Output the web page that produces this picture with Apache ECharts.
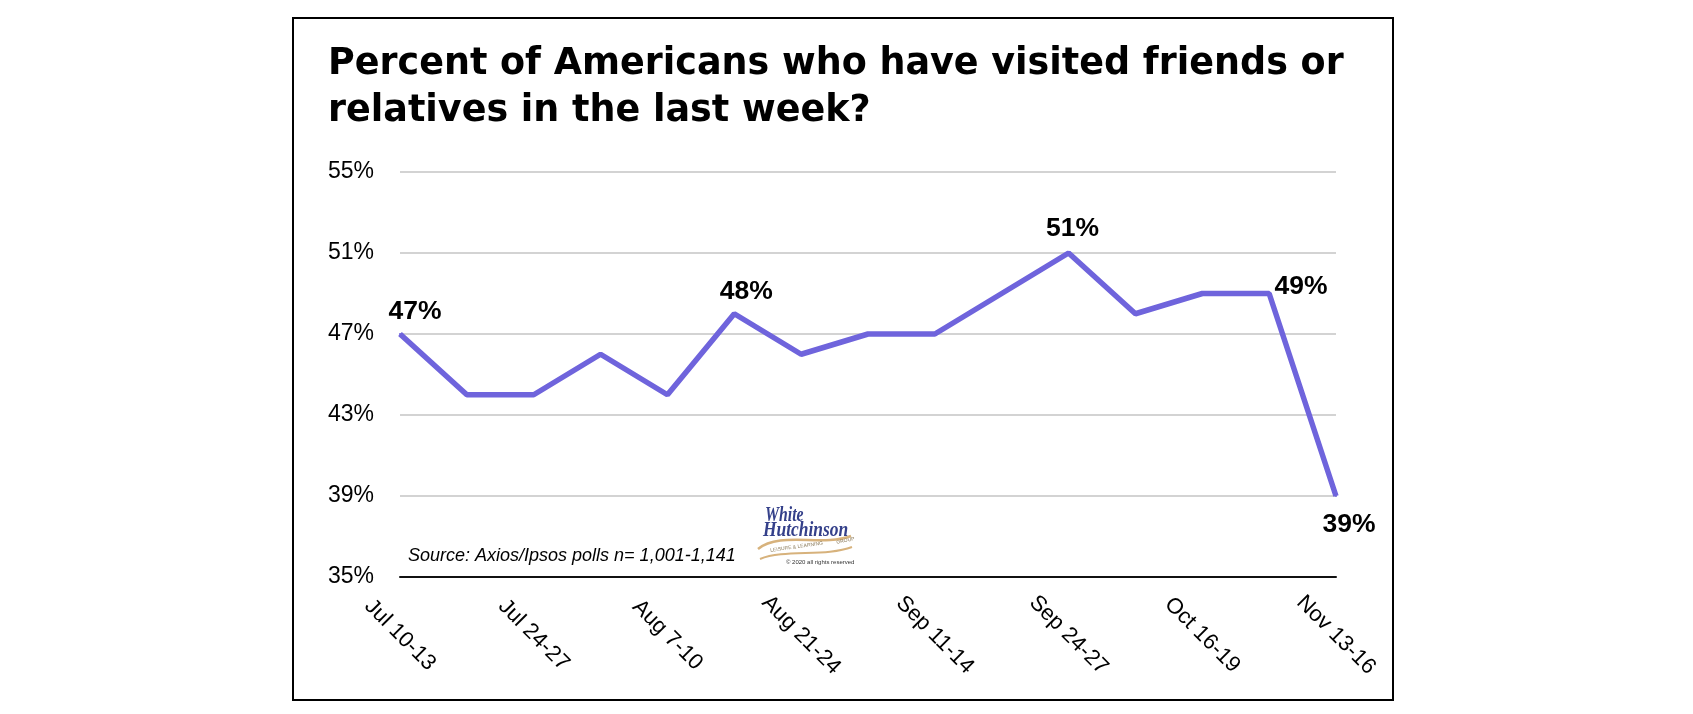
<!DOCTYPE html>
<html>
<head>
<meta charset="utf-8">
<title>Visited friends or relatives</title>
<script src="https://cdn.jsdelivr.net/npm/echarts@6/dist/echarts.min.js"></script>
<style>
    html, body {margin: 0; padding: 0; background: #fff;}
    #chart {width: 1693px; height: 714px;}
</style>
</head>
<body>
<div id="chart"></div>
<script>
// poll waves (Axios/Ipsos), only every other one is labelled on the axis
var waves = ['Jul 10-13', 'Jul 17-20', 'Jul 24-27', 'Jul 31-Aug 3', 'Aug 7-10', 'Aug 14-17',
             'Aug 21-24', 'Aug 28-31', 'Sep 11-14', 'Sep 18-21', 'Sep 24-27', 'Oct 2-5',
             'Oct 16-19', 'Oct 23-26', 'Nov 13-16'];
// percent who visited friends or relatives in the last week
var visited = [47, 44, 44, 46, 44, 48, 46, 47, 47, 49, 51, 48, 49, 49, 39];
// which points carry a value label
var labelledPoints = [0, 5, 10, 13, 14];
var yTicks = {min: 35, max: 55, step: 4};

// where each value label sits around its point
var labelPlace = {
    0:  {position: 'top', offset: [15, -3]},
    5:  {position: 'top', offset: [12, -3]},
    10: {position: 'top', offset: [4, -5]},
    13: {position: 'top', offset: [32, 13]},
    14: {position: 'bottom', offset: [13, 9]}
};

function visitedChart(id) {
    var lineChart = echarts.init(document.getElementById(id));

    var data = visited.map(function (v, i) {
        var item = {value: v};
        if (labelledPoints.indexOf(i) >= 0) {
            item.label = {
                show: true,
                position: labelPlace[i].position,
                offset: labelPlace[i].offset
            };
        }
        return item;
    });

    var tan = '#d7b27c';
    var lineoption = {
        backgroundColor: '#fff',
        animation: false,
        title: {
            text: 'Percent of Americans who have visited friends or\nrelatives in the last week?',
            left: 323,
            top: 36,
            textStyle: {
                fontFamily: 'DejaVu Sans',
                fontWeight: 'bold',
                fontSize: 36.5,
                lineHeight: 47,
                color: '#000'
            }
        },
        grid: {
            left: 400,
            right: 357,
            top: 172,
            bottom: 137
        },
        xAxis: [
            {
                type: 'category',
                data: waves,
                boundaryGap: false,
                axisTick: {show: false},
                axisLine: {lineStyle: {color: '#111', width: 2}},
                axisLabel: {
                    interval: 1,
                    rotate: -45,
                    align: 'center',
                    verticalAlign: 'middle',
                    margin: 58,
                    fontFamily: 'Liberation Sans',
                    fontSize: 22,
                    color: '#000'
                }
            }
        ],
        yAxis: [
            {
                type: 'value',
                min: yTicks.min,
                max: yTicks.max,
                interval: yTicks.step,
                axisLine: {show: false},
                axisTick: {show: false},
                splitLine: {lineStyle: {color: '#c4c4c4', width: 1.5}},
                axisLabel: {
                    formatter: '{value}%',
                    margin: 26,
                    fontFamily: 'Liberation Sans',
                    fontSize: 23,
                    color: '#000'
                }
            }
        ],
        series: [
            {
                name: 'Visited',
                type: 'line',
                data: data,
                symbol: 'circle',
                symbolSize: 2,
                showSymbol: true,
                itemStyle: {color: '#6f64dc'},
                lineStyle: {color: '#6f64dc', width: 5.5},
                label: {
                    show: false,
                    formatter: '{c}%',
                    fontFamily: 'Liberation Sans',
                    fontWeight: 'bold',
                    fontSize: 26.5,
                    color: '#000'
                },
                z: 3
            }
        ],
        graphic: [
            // outer frame
            {
                type: 'rect',
                shape: {x: 293, y: 18, width: 1100, height: 682},
                style: {fill: 'none', stroke: '#000', lineWidth: 2},
                silent: true
            },
            // source note
            {
                type: 'text',
                x: 408,
                y: 547,
                style: {
                    text: 'Source: Axios/Ipsos polls n= 1,001-1,141',
                    font: 'italic 18px "Liberation Sans"',
                    fill: '#000'
                }
            },
            // logo
            {
                type: 'group',
                x: 752,
                y: 505,
                children: [
                    {
                        type: 'text',
                        x: 13, y: 0,
                        scaleX: 0.75,
                        style: {text: 'White', font: 'italic bold 21px "Liberation Serif"', fill: '#34408a'}
                    },
                    {
                        type: 'text',
                        x: 11, y: 15,
                        scaleX: 0.83,
                        style: {text: 'Hutchinson', font: 'italic bold 21px "Liberation Serif"', fill: '#34408a'}
                    },
                    {
                        type: 'bezierCurve',
                        shape: {x1: 6, y1: 44, cpx1: 28, cpy1: 26, cpx2: 70, cpy2: 42, x2: 99, y2: 31},
                        style: {fill: 'none', stroke: tan, lineWidth: 2.5}
                    },
                    {
                        type: 'bezierCurve',
                        shape: {x1: 8, y1: 54, cpx1: 32, cpy1: 44, cpx2: 74, cpy2: 52, x2: 100, y2: 42},
                        style: {fill: 'none', stroke: tan, lineWidth: 2}
                    },
                    {
                        type: 'text',
                        x: 18, y: 43,
                        rotation: 0.14,
                        style: {text: 'LEISURE & LEARNING', font: '5px "Liberation Sans"', fill: '#8a7a5a'}
                    },
                    {
                        type: 'text',
                        x: 84, y: 35,
                        rotation: 0.2,
                        style: {text: 'GROUP', font: '5px "Liberation Sans"', fill: '#8a7a5a'}
                    },
                    {
                        type: 'text',
                        x: 34, y: 54,
                        style: {text: '\u00a9 2020 all rights reserved', font: '6px "Liberation Sans"', fill: '#333'}
                    }
                ]
            }
        ]
    };

    lineChart.setOption(lineoption);
    window.onresize = lineChart.resize;
}

visitedChart('chart');
</script>
</body>
</html>
